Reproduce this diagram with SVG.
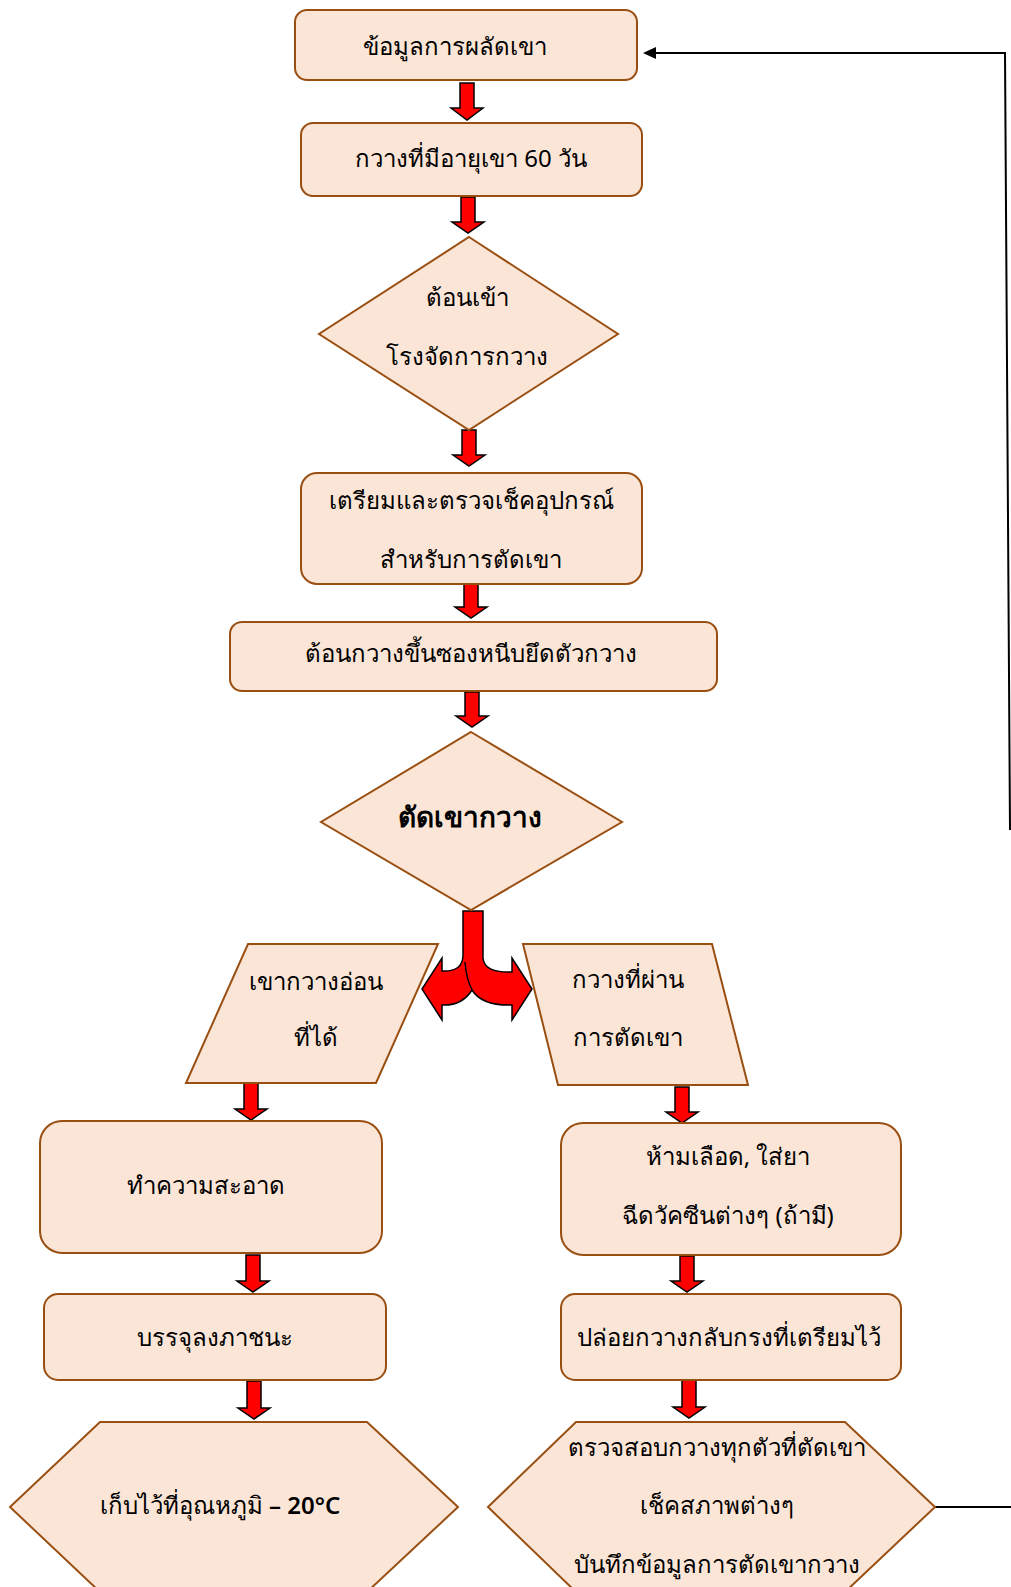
<svg xmlns="http://www.w3.org/2000/svg" width="1011" height="1587" viewBox="0 0 1011 1587">
<defs>
<style>
.n{fill:#FBE5D6;stroke:#9A4F12;stroke-width:2}
.t{font-family:"Noto Sans","DejaVu Sans",sans-serif;font-size:24px;fill:#000;text-anchor:middle;dominant-baseline:central}
.a{fill:#FF0000;stroke:#000;stroke-width:1.5;stroke-linejoin:miter}
.c{fill:none;stroke:#000;stroke-width:2}
</style>
</defs>
<rect width="1011" height="1587" fill="#fff"/>
<g id="connectors">
<polyline class="c" points="1010,830 1005,53 650,53"/>
<path d="M643,53 L656,47 L656,59 z" fill="#000"/>
<line class="c" x1="935" y1="1507" x2="1011" y2="1507"/>
<polygon class="a" points="460,83 474,83 474,108 483,108 467,120 451,108 460,108"/>
<polygon class="a" points="461,197 475,197 475,222 484,222 468,233 452,222 461,222"/>
<polygon class="a" points="462,430 476,430 476,455 485,455 469,466 453,455 462,455"/>
<polygon class="a" points="464,584 478,584 478,607 487,607 471,618 455,607 464,607"/>
<polygon class="a" points="465,692 479,692 479,716 488,716 472,727 456,716 465,716"/>
<polygon class="a" points="244,1083 258,1083 258,1109 267,1109 251,1120 235,1109 244,1109"/>
<polygon class="a" points="246,1255 260,1255 260,1281 269,1281 253,1292 237,1281 246,1281"/>
<polygon class="a" points="247,1381 261,1381 261,1408 270,1408 254,1419 238,1408 247,1408"/>
<polygon class="a" points="675,1087 689,1087 689,1112 698,1112 682,1123 666,1112 675,1112"/>
<polygon class="a" points="680,1256 694,1256 694,1281 703,1281 687,1292 671,1281 680,1281"/>
<polygon class="a" points="682,1380 696,1380 696,1407 705,1407 689,1418 673,1407 682,1407"/>
<path class="a" d="M463,911 L483,911 L483,958 Q484,973 512,972 L512,958 L532,989 L512,1020 L512,1005 Q482,1006 472,990 Q462,1006 442,1005 L442,1020 L422,989 L442,958 L442,971 Q463,972 463,955 Z"/>
<path d="M472,990 Q466,978 465,962" fill="none" stroke="#000" stroke-width="1.5"/>
</g>
<g id="n1"><rect class="n" x="295" y="10" width="342" height="70" rx="12"/><text class="t" x="455" y="45">ข้อมูลการผลัดเขา</text></g>
<g id="n2"><rect class="n" x="301" y="123" width="341" height="73" rx="12"/><text class="t" x="471" y="157">กวางที่มีอายุเขา 60 วัน</text></g>
<g id="n3"><polygon class="n" points="469,237 618,334 469,430 319,334"/><text class="t" x="467" y="296">ต้อนเข้า</text><text class="t" x="467" y="355">โรงจัดการกวาง</text></g>
<g id="n4"><rect class="n" x="301" y="473" width="341" height="111" rx="16"/><text class="t" x="471" y="499">เตรียมและตรวจเช็คอุปกรณ์</text><text class="t" x="471" y="558">สำหรับการตัดเขา</text></g>
<g id="n5"><rect class="n" x="230" y="622" width="487" height="69" rx="12"/><text class="t" x="471" y="652">ต้อนกวางขึ้นซองหนีบยึดตัวกวาง</text></g>
<g id="n6"><polygon class="n" points="471,732 622,822 471,910 321,822"/><text class="t" x="470" y="816" style="font-weight:bold;font-size:28px">ตัดเขากวาง</text></g>
<g id="n7"><polygon class="n" points="248,944 438,944 376,1083 186,1083"/><text class="t" x="316" y="980">เขากวางอ่อน</text><text class="t" x="316" y="1036">ที่ได้</text></g>
<g id="n8"><polygon class="n" points="523,944 712,944 748,1085 558,1085"/><text class="t" x="628" y="978">กวางที่ผ่าน</text><text class="t" x="628" y="1036">การตัดเขา</text></g>
<g id="n9"><rect class="n" x="40" y="1121" width="342" height="132" rx="22"/><text class="t" x="206" y="1184">ทำความสะอาด</text></g>
<g id="n10"><rect class="n" x="44" y="1294" width="342" height="86" rx="14"/><text class="t" x="215" y="1336">บรรจุลงภาชนะ</text></g>
<g id="n11"><polygon class="n" points="100,1422 367,1422 458,1507 367,1592 100,1592 10,1507"/><text class="t" x="220" y="1504">เก็บไว้ที่อุณหภูมิ <tspan style="font-weight:600">– 20°C</tspan></text></g>
<g id="n12"><rect class="n" x="561" y="1123" width="340" height="132" rx="22"/><text class="t" x="728" y="1155">ห้ามเลือด, ใส่ยา</text><text class="t" x="728" y="1214">ฉีดวัคซีนต่างๆ (ถ้ามี)</text></g>
<g id="n13"><rect class="n" x="561" y="1294" width="340" height="86" rx="14"/><text class="t" x="729" y="1336">ปล่อยกวางกลับกรงที่เตรียมไว้</text></g>
<g id="n14"><polygon class="n" points="576,1422 845,1422 935,1507 845,1592 576,1592 488,1507"/><text class="t" x="717" y="1446">ตรวจสอบกวางทุกตัวที่ตัดเขา</text><text class="t" x="717" y="1504">เช็คสภาพต่างๆ</text><text class="t" x="717" y="1563">บันทึกข้อมูลการตัดเขากวาง</text></g>
</svg>
